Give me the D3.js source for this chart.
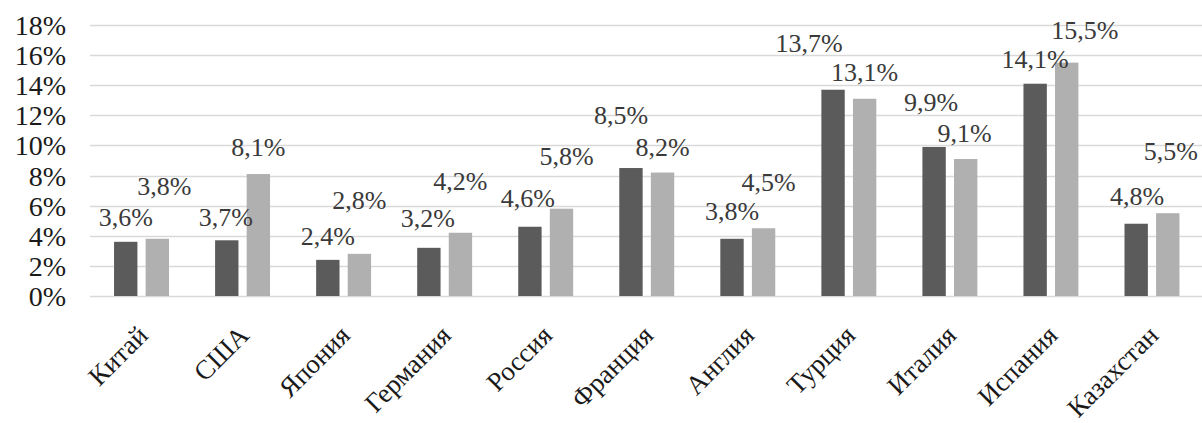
<!DOCTYPE html>
<html>
<head>
<meta charset="utf-8">
<script src="https://cdn.jsdelivr.net/npm/d3@7"></script>
<style>
  html, body { margin: 0; padding: 0; background: #fff; }
  svg { display: block; }
</style>
</head>
<body>
<svg id="chart" width="1202" height="423"></svg>
<script>
// ---- data ----
const categories = ["Китай", "США", "Япония", "Германия", "Россия", "Франция", "Англия", "Турция", "Италия", "Испания", "Казахстан"];
const seriesA = [3.6, 3.7, 2.4, 3.2, 4.6, 8.5, 3.8, 13.7, 9.9, 14.1, 4.8];
const seriesB = [3.8, 8.1, 2.8, 4.2, 5.8, 8.2, 4.5, 13.1, 9.1, 15.5, 5.5];
const yTicks = [0, 2, 4, 6, 8, 10, 12, 14, 16, 18];

// label nudges (px) relative to the top centre of each bar, as placed in the original
const labelDxA = [0, -1, 0, -1, -2, -10, 0, -24, -3, 0, 1];
const labelDyA = [-16, -14, -15, -21, -20, -44, -19, -38, -36, -16, -19];
const labelDxB = [7, 0, 0, 0, 5, 0, 5, 0, -1, 18, 3];
const labelDyB = [-44, -18, -45, -43, -44, -17, -37, -18, -17, -24, -53];

const FONT = "'Times New Roman', Times, 'Liberation Serif', Tinos, 'DejaVu Serif', 'Noto Serif', serif";

// ---- layout ----
const svg = d3.select("#chart");
const plotLeft = 91, plotRight = 1202, yZero = 296, yTop = 25;

const x0 = d3.scaleBand().domain(categories).range([plotLeft, plotRight + 0.5]).paddingInner(0).paddingOuter(0);
const x1 = d3.scaleBand().domain([0, 1]).range([0, x0.bandwidth()]).paddingInner(0.26).paddingOuter(0.73);
const y = d3.scaleLinear().domain([0, 18]).range([yZero, yTop]);

const fmt = v => d3.format(".1f")(v).replace(".", ",") + "%";

// gridlines
svg.append("g")
  .selectAll("line")
  .data(yTicks)
  .join("line")
  .attr("x1", 90).attr("x2", 1202)
  .attr("y1", d => Math.round(y(d)) + 0.5).attr("y2", d => Math.round(y(d)) + 0.5)
  .attr("stroke", "#d9d9d9").attr("stroke-width", 1.6);

// y axis labels
const yAxis = d3.axisLeft(y).tickValues(yTicks).tickFormat(d => d + "%").tickSize(0).tickPadding(0);
const yg = svg.append("g").attr("transform", "translate(66,0)").call(yAxis);
yg.attr("font-family", null).attr("font-size", 28);
yg.select(".domain").remove();
yg.selectAll("text")
  .style("font-family", FONT)
  .attr("font-size", 28)
  .attr("fill", "#1a1a1a")
  .attr("dy", "0.34em");

// bars
const series = [
  { vals: seriesA, color: "#5b5b5b", dx: labelDxA, dy: labelDyA },
  { vals: seriesB, color: "#b0b0b0", dx: labelDxB, dy: labelDyB }
];

series.forEach((s, si) => {
  svg.append("g")
    .selectAll("rect")
    .data(categories)
    .join("rect")
    .attr("x", (c) => x0(c) + x1(si))
    .attr("width", x1.bandwidth())
    .attr("y", (c, i) => y(s.vals[i]))
    .attr("height", (c, i) => yZero - y(s.vals[i]))
    .attr("fill", s.color);
});

// data labels
series.forEach((s, si) => {
  svg.append("g")
    .selectAll("text")
    .data(categories)
    .join("text")
    .attr("x", (c, i) => x0(c) + x1(si) + x1.bandwidth() / 2 + s.dx[i])
    .attr("y", (c, i) => y(s.vals[i]) + s.dy[i])
    .attr("text-anchor", "middle")
    .style("font-family", FONT)
    .attr("font-size", 26)
    .attr("fill", "#3a3a3a")
    .text((c, i) => fmt(s.vals[i]));
});

// x axis labels (rotated)
const xAxis = d3.axisBottom(x0).tickSize(0).tickPadding(0);
const xg = svg.append("g").attr("transform", `translate(0,${yZero})`).call(xAxis);
xg.attr("font-family", null).attr("font-size", 28);
xg.select(".domain").remove();
xg.selectAll(".tick text")
  .style("font-family", FONT)
  .attr("font-size", 27)
  .attr("fill", "#1a1a1a")
  .attr("text-anchor", "end")
  .attr("dy", 0)
  .attr("transform", "translate(8,41) rotate(-45)");
</script>
</body>
</html>
